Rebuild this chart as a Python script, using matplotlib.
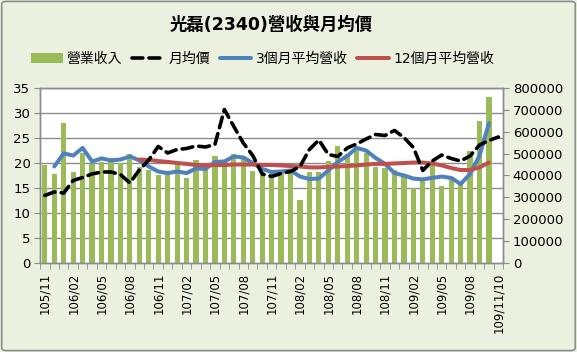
import matplotlib
matplotlib.use("Agg")
import matplotlib.pyplot as plt
from matplotlib.patches import FancyBboxPatch
import numpy as np

plt.rcParams['font.family'] = ['DejaVu Sans', 'Noto Sans CJK TC']

categories = ["105/11", "105/12", "106/01", "106/02", "106/03", "106/04", "106/05", "106/06",
              "106/07", "106/08", "106/09", "106/10", "106/11", "106/12", "107/01", "107/02",
              "107/03", "107/04", "107/05", "107/06", "107/07", "107/08", "107/09", "107/10",
              "107/11", "107/12", "108/01", "108/02", "108/03", "108/04", "108/05", "108/06",
              "108/07", "108/08", "108/09", "108/10", "108/11", "108/12", "109/01", "109/02",
              "109/03", "109/04", "109/05", "109/06", "109/07", "109/08", "109/09", "109/10",
              "109/11/10"]

revenue = [450000, 405000, 642000, 418000, 503000, 453000, 462000, 478000,
           457000, 496000, 440000, 427000, 402000, 407000, 450000, 389000,
           469000, 434000, 487000, 471000, 500000, 489000, 421000, 409000,
           418000, 418000, 414000, 290000, 416000, 416000, 464000, 537000,
           496000, 519000, 503000, 437000, 432000, 423000, 405000, 343000,
           382000, 446000, 350000, 389000, 359000, 514000, 651000, 757000]

price = [13.5, 14.2, 14.0, 16.5, 17.1, 17.8, 18.2, 18.2, 17.7, 16.0, 18.6, 20.6,
         23.3, 22.0, 22.7, 22.9, 23.4, 23.2, 23.7, 30.7, 27.3, 24.0, 21.5, 17.8,
         17.3, 17.9, 18.3, 19.3, 22.7, 24.6, 21.7, 21.3, 23.0, 23.8, 24.8, 25.7,
         25.5, 26.5, 25.1, 23.1, 18.5, 20.4, 21.6, 20.9, 20.4, 21.4, 23.6, 24.5, 25.2]

# 3-month average revenue, from 105/12 to 109/10
avg3_start = 1
avg3 = [441000, 501000, 491000, 526000, 464000, 478000, 469000, 473000, 487000,
        469000, 441000, 418000, 411000, 418000, 411000, 432000, 430000, 462000,
        464000, 487000, 482000, 457000, 430000, 416000, 418000, 423000, 395000,
        384000, 386000, 423000, 462000, 489000, 526000, 514000, 480000, 453000,
        411000, 400000, 386000, 382000, 389000, 395000, 389000, 361000, 407000,
        491000, 640000]

# 12-month average revenue, from 106/09 to 109/10
avg12_start = 10
avg12 = [473000, 471000, 466000, 462000, 457000, 453000, 448000, 446000, 448000,
         448000, 450000, 450000, 450000, 448000, 448000, 446000, 443000, 441000,
         437000, 437000, 439000, 441000, 443000, 446000, 450000, 453000, 453000,
         455000, 457000, 459000, 459000, 455000, 446000, 434000, 425000, 425000,
         437000, 459000]

price_ticks = [0, 5, 10, 15, 20, 25, 30, 35]
rev_ticks = [0, 100000, 200000, 300000, 400000, 500000, 600000, 700000, 800000]
label_idx = [0, 3, 6, 9, 12, 15, 18, 21, 24, 27, 30, 33, 36, 39, 42, 45, 48]

title = "光磊(2340)營收與月均價"
legend_names = ["營業收入", "月均價", "3個月平均營收", "12個月平均營收"]

BG = "#EBF1DE"
GREEN = "#9BBB59"
BLUE = "#4F81BD"
RED = "#C0504D"
GRID = "#8C8C8C"

fig = plt.figure(figsize=(5.77, 3.52), dpi=100, facecolor=BG)
fig.patches.append(FancyBboxPatch((0.003, 0.004), 0.994, 0.992, boxstyle="round,pad=0,rounding_size=0.008",
                                  transform=fig.transFigure, facecolor=BG, edgecolor="#8C8C8C",
                                  linewidth=1.2, zorder=-10))

ax = fig.add_axes([0.0695, 0.253, 0.8025, 0.497])
ax2 = ax.twinx()
ax2.set_zorder(ax.get_zorder() - 1)
ax.patch.set_visible(False)
ax2.patch.set_visible(True)
ax2.patch.set_facecolor("white")

n = len(categories)
x = np.arange(n)

# gridlines at left-axis ticks (drawn behind bars)
for t in price_ticks[1:]:
    ax2.axhline(t * 800000 / 35, color=GRID, linewidth=1.0, zorder=0)

bars = ax2.bar(x[:len(revenue)], revenue, width=0.55, color=GREEN, zorder=2, label=legend_names[0])
l3, = ax2.plot(x[avg3_start:avg3_start + len(avg3)], avg3, color=BLUE, linewidth=2.9,
               solid_joinstyle="round", solid_capstyle="round", zorder=3, label=legend_names[2])
l12, = ax2.plot(x[avg12_start:avg12_start + len(avg12)], avg12, color=RED, linewidth=2.9,
                solid_joinstyle="round", solid_capstyle="round", zorder=4, label=legend_names[3])
lp, = ax.plot(x, price, color="black", linewidth=2.6, linestyle=(0, (3.0, 1.7)),
              dash_capstyle="round", dash_joinstyle="round", zorder=5, label=legend_names[1])

ax.set_xlim(-0.5, n - 0.5)
ax.set_ylim(0, 35)
ax2.set_ylim(0, 800000)
ax.set_yticks(price_ticks)
ax2.set_yticks(rev_ticks)
ax2.set_yticklabels([str(v) for v in rev_ticks])

ax.set_xticks(x[label_idx])
ax.set_xticklabels([categories[i] for i in label_idx], rotation=90, fontsize=8.5)
ax.set_xticks(np.arange(-0.5, n, 1.0), minor=True)
ax.tick_params(axis="x", which="major", length=0, pad=7)
ax.tick_params(axis="x", which="minor", length=4, color=GRID, direction="out")
ax.tick_params(axis="y", labelsize=9.5, length=4, color=GRID, pad=3)
ax2.tick_params(axis="y", labelsize=9.5, length=4, color=GRID, pad=3)
ax2.tick_params(axis="x", length=0)

for a in (ax, ax2):
    for s in a.spines.values():
        s.set_color(GRID)
        s.set_linewidth(1.0)

fig.text(0.47, 0.93, title, ha="center", va="center", fontsize=12.5, fontweight="bold",
         family=["DejaVu Sans", "Noto Sans CJK TC"])

fig.legend([bars, lp, l3, l12], legend_names, loc="center", bbox_to_anchor=(0.455, 0.833),
           ncol=4, frameon=False, handlelength=2.3, handletextpad=0.3,
           columnspacing=0.7, prop={"family": ["DejaVu Sans", "Noto Sans CJK TC"], "size": 10})

fig.savefig("out.png", dpi=100, facecolor=BG)
